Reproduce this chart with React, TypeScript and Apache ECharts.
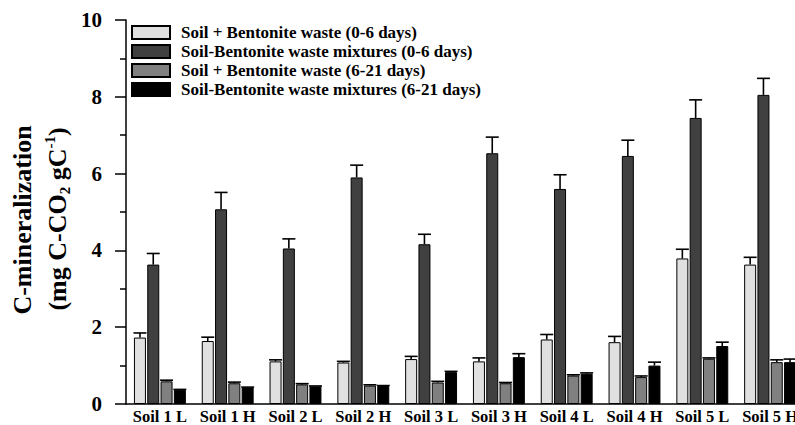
import React, { useEffect, useRef } from 'react';
import * as echarts from 'echarts';

const categories = ['Soil 1 L', 'Soil 1 H', 'Soil 2 L', 'Soil 2 H', 'Soil 3 L', 'Soil 3 H', 'Soil 4 L', 'Soil 4 H', 'Soil 5 L', 'Soil 5 H'];
const seriesNames = [
  'Soil + Bentonite waste (0-6 days)',
  'Soil-Bentonite waste mixtures (0-6 days)',
  'Soil + Bentonite waste (6-21 days)',
  'Soil-Bentonite waste mixtures (6-21 days)',
];
const waste06 = [1.73, 1.64, 1.11, 1.08, 1.17, 1.11, 1.68, 1.61, 3.79, 3.63];
const waste06Err = [0.12, 0.10, 0.04, 0.03, 0.07, 0.09, 0.13, 0.15, 0.24, 0.19];
const mix06 = [3.63, 5.07, 4.05, 5.90, 4.16, 6.53, 5.60, 6.46, 7.45, 8.05];
const mix06Err = [0.29, 0.44, 0.25, 0.32, 0.26, 0.42, 0.37, 0.41, 0.47, 0.43];
const waste621 = [0.59, 0.54, 0.51, 0.48, 0.56, 0.54, 0.74, 0.70, 1.18, 1.09];
const waste621Err = [0.03, 0.03, 0.02, 0.02, 0.03, 0.02, 0.02, 0.03, 0.02, 0.06];
const mix621 = [0.37, 0.43, 0.46, 0.47, 0.83, 1.22, 0.79, 1.00, 1.51, 1.09];
const mix621Err = [0.01, 0.01, 0.01, 0.01, 0.02, 0.09, 0.02, 0.09, 0.10, 0.08];
const yTicks = [0, 2, 4, 6, 8, 10];

const values = [waste06, mix06, waste621, mix621];
const errors = [waste06Err, mix06Err, waste621Err, mix621Err];
const colors = ['#e0e0e0', '#404040', '#808080', '#000000'];

const FONT = '"Liberation Serif", "Times New Roman", serif';
const BAR_W = 12;
const BAR_GAP_PX = 1.3;

export default function App() {
  const ref = useRef<HTMLDivElement>(null);
  useEffect(() => {
    document.body.style.margin = '0';
    document.body.style.overflow = 'hidden';
    const chart = echarts.init(ref.current!, null, { renderer: 'svg' });
    const pitch = BAR_W + BAR_GAP_PX;

    const barSeries = values.map((vals, i) => ({
      name: seriesNames[i],
      type: 'bar',
      data: vals,
      barWidth: BAR_W,
      barGap: (BAR_GAP_PX / BAR_W) * 100 + '%',
      itemStyle: { color: colors[i], borderColor: '#000', borderWidth: 1 },
      z: 2,
    }));

    const errSeries = values.map((vals, i) => ({
      type: 'custom',
      name: 'err' + i,
      data: vals.map((v, k) => [k, v, errors[i][k]]),
      encode: { x: 0, y: 1 },
      z: 3,
      silent: true,
      renderItem: (params: any, api: any) => {
        const idx = api.value(0);
        const v = api.value(1);
        const e = api.value(2);
        const p0 = api.coord([idx, v]);
        const p1 = api.coord([idx, v + e]);
        const x = p0[0] + (i - 1.5) * pitch;
        const half = 6.5;
        const st = { stroke: '#000', lineWidth: 1.6 };
        return {
          type: 'group',
          children: [
            { type: 'line', shape: { x1: x, y1: p0[1], x2: x, y2: p1[1] }, style: st },
            { type: 'line', shape: { x1: x - half, y1: p1[1], x2: x + half, y2: p1[1] }, style: st },
          ],
        };
      },
    }));

    chart.setOption({
      animation: false,
      grid: { left: 126, top: 20, right: 0, bottom: 21, containLabel: false },
      legend: {
        data: seriesNames,
        orient: 'vertical',
        left: 131,
        top: 24,
        padding: 0,
        itemWidth: 38,
        itemHeight: 13,
        itemGap: 2,
        icon: 'rect',
        textStyle: { fontFamily: FONT, fontWeight: 'bold', fontSize: 17, color: '#000', lineHeight: 17, padding: [0, 0, 0, 6] },
      },
      graphic: [
        {
          type: 'text',
          x: 22,
          y: 220,
          rotation: Math.PI / 2,
          style: {
            text: 'C-mineralization',
            fontFamily: FONT,
            fontWeight: 'bold',
            fontSize: 26,
            fill: '#000',
            textAlign: 'center',
            textVerticalAlign: 'middle',
          },
        },
        {
          type: 'text',
          x: 57,
          y: 219,
          rotation: Math.PI / 2,
          style: {
            text: '(mg C-CO{sub|2} gC{sup|-1})',
            fontFamily: FONT,
            fontWeight: 'bold',
            fontSize: 26,
            fill: '#000',
            textAlign: 'center',
            textVerticalAlign: 'middle',
            rich: {
              sub: { fontFamily: FONT, fontWeight: 'bold', fontSize: 15, verticalAlign: 'bottom', fill: '#000', lineHeight: 30 },
              sup: { fontFamily: FONT, fontWeight: 'bold', fontSize: 15, verticalAlign: 'top', fill: '#000', lineHeight: 30 },
            },
          },
        },
      ],
      xAxis: {
        type: 'category',
        data: categories,
        axisLine: { lineStyle: { color: '#000', width: 1.5 } },
        axisTick: { alignWithLabel: true, length: 6, lineStyle: { color: '#000', width: 1.5 } },
        axisLabel: { interval: 0, margin: 4, fontFamily: FONT, fontWeight: 'bold', fontSize: 16.5, color: '#000' },
      },
      yAxis: {
        type: 'value',
        min: yTicks[0],
        max: yTicks[yTicks.length - 1],
        interval: 2,
        splitLine: { show: false },
        axisLine: { show: true, lineStyle: { color: '#000', width: 1.5 } },
        axisTick: { show: true, length: 11, lineStyle: { color: '#000', width: 1.5 } },
        minorTick: { show: true, splitNumber: 2, length: 6, lineStyle: { color: '#000', width: 1.5 } },
        axisLabel: { margin: 24, fontFamily: FONT, fontWeight: 'bold', fontSize: 21, color: '#000' },
      },
      series: [...barSeries, ...errSeries],
    });
    return () => chart.dispose();
  }, []);
  return <div ref={ref} style={{ width: 804, height: 425 }} />;
}
